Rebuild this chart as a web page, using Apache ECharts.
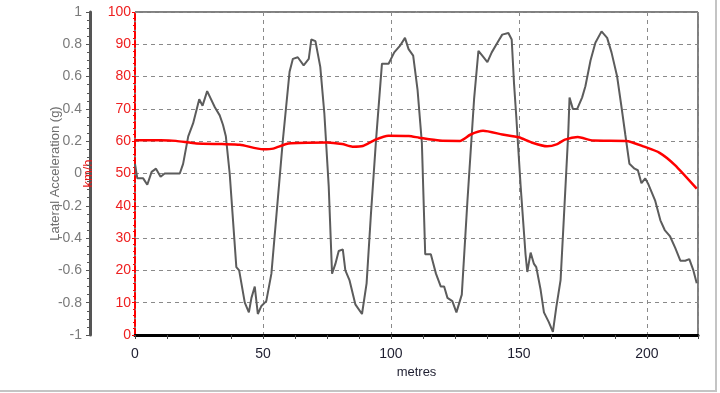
<!DOCTYPE html>
<html>
<head>
<meta charset="utf-8">
<script src="https://cdn.jsdelivr.net/npm/echarts@6/dist/echarts.min.js"></script>
<style>
    html, body { margin: 0; padding: 0; background: #fff; }
    #wrap { position: relative; width: 720px; height: 393px; overflow: hidden; }
    #frame { position: absolute; left: -3px; top: -3px; width: 720px; height: 395px;
        box-sizing: border-box; border: 2px solid #c4c4c4; }
    #chart { position: absolute; left: 0; top: 0; width: 720px; height: 393px; }
</style>
</head>
<body>
<div id="wrap">
    <div id="frame"></div>
    <div id="chart"></div>
</div>
<script>
    // lateral acceleration (g) against distance (m)
    var latMetres = [0, 0.9, 3.2, 4.8, 6.5, 8.2, 10, 11.6, 17.5, 18.8, 20.8, 22.7, 25.1, 26.4, 28.2, 31.2,
        33.1, 34.4, 35.5, 37, 39.6, 40.7, 42.9, 44.5, 45.5, 46.8, 48, 49.4, 51.3, 53.3, 55.2, 57.8,
        60.4, 61.7, 63.6, 65.9, 67.9, 68.9, 70.5, 72.4, 74, 75.7, 77, 78.3, 79.6, 81.2, 82.2, 83.8,
        86.1, 88.7, 90.5, 92.2, 94.2, 96.5, 99.1, 101.3, 103.5, 105.5, 106.9, 108.7, 110.4, 112.1,
        113.4, 115.6, 117.6, 119.5, 120.8, 122.1, 124, 125.6, 127.7, 129.9, 132.5, 134.2, 135.7,
        137.7, 139.4, 141.6, 143.5, 145.9, 147.2, 148.1, 149, 150.7, 152.6, 153.3, 154.6, 155.9,
        156.8, 158.5, 159.8, 161.7, 163.3, 164.6, 166.3, 167.6, 169.3, 169.8, 171.1, 172.8, 174.7,
        176, 178, 179.9, 182.3, 184.5, 186.2, 188.4, 190.3, 191.6, 193.2, 195.2, 196.5, 197.9,
        199.4, 200.7, 203.3, 205.3, 207, 209.1, 211.1, 213.1, 215, 216.6, 218.2, 219.5];
    var latG = [0.06, -0.03, -0.03, -0.07, 0.01, 0.03, -0.02, 0.00, 0.00, 0.06, 0.23, 0.31, 0.46, 0.42, 0.51, 0.41,
        0.36, 0.30, 0.23, 0.00, -0.58, -0.60, -0.80, -0.86, -0.77, -0.70, -0.87, -0.82, -0.79, -0.62, -0.27, 0.21,
        0.63, 0.71, 0.72, 0.67, 0.71, 0.83, 0.82, 0.66, 0.37, -0.08, -0.62, -0.56, -0.48, -0.47, -0.60, -0.66,
        -0.81, -0.87, -0.68, -0.25, 0.21, 0.68, 0.68, 0.75, 0.79, 0.84, 0.77, 0.73, 0.52, 0.19,
        -0.50, -0.50, -0.62, -0.70, -0.70, -0.77, -0.79, -0.86, -0.75, -0.17, 0.46, 0.76, 0.73,
        0.69, 0.75, 0.81, 0.86, 0.87, 0.83, 0.56, 0.35, -0.08, -0.50, -0.61, -0.49, -0.56,
        -0.58, -0.72, -0.86, -0.92, -0.98, -0.83, -0.66, -0.27, 0.25, 0.47, 0.40, 0.40, 0.47,
        0.54, 0.70, 0.81, 0.88, 0.84, 0.75, 0.60, 0.39, 0.24, 0.06, 0.03, 0.02, -0.06,
        -0.03, -0.07, -0.17, -0.29, -0.35, -0.39, -0.46, -0.54, -0.54, -0.53, -0.60, -0.68];

    // speed (km/h) against distance (m)
    var speedMetres = [0, 10, 16, 24, 34, 41, 50, 54, 60, 75, 81, 85, 89, 94, 99, 107, 111, 119, 127, 131,
        136, 143.5, 150, 155, 161, 165, 168, 173, 179, 192, 199, 205, 211, 219.5];
    var speedKmh = [60.3, 60.3, 60.1, 59.3, 59.1, 58.9, 57.5, 57.7, 59.3, 59.6, 59.1, 58.3, 58.5, 60.5, 61.7, 61.6,
        61.1, 60.2, 60.1, 62, 63.2, 62.1, 61.2, 59.6, 58.4, 59.1, 60.5, 61.3, 60.2, 60.1, 58.3, 56.4, 52.6, 45.3];

    var gTickLabels = ['-1', '-0.8', '-0.6', '-0.4', '-0.2', '0', '0.2', '0.4', '0.6', '0.8', '1'];

    function zip(xs, ys) {
        return xs.map(function (x, i) { return [x, ys[i]]; });
    }

    var FONT = '"Liberation Sans", Arial, sans-serif';
    var dashed = { color: '#8a8a8a', type: [4, 4], width: 1 };

    var chart = echarts.init(document.getElementById('chart'));
    chart.setOption({
        animation: false,
        grid: {
            left: 135, right: 22, top: 12, bottom: 58,
            show: true, borderColor: '#000', borderWidth: 1
        },
        xAxis: {
            type: 'value', min: 0, max: 220, interval: 50,
            name: 'metres', nameLocation: 'middle', nameGap: 31, nameMoveOverlap: false,
            nameTextStyle: { color: '#1e1e30', fontSize: 13, fontFamily: FONT },
            axisLine: { onZero: false, lineStyle: { color: '#000', width: 3 } },
            axisTick: { show: true, length: 4, lineStyle: { color: '#444' } },
            minorTick: { show: true, splitNumber: 4, length: 4, lineStyle: { color: '#444' } },
            axisLabel: {
                color: '#1e1e30', fontSize: 14, fontFamily: FONT, margin: 12,
                showMaxLabel: false
            },
            splitLine: { show: true, lineStyle: dashed }
        },
        yAxis: [{
            type: 'value', min: -1, max: 1, interval: 0.2, position: 'left', offset: 45,
            name: 'Lateral Acceleration (g)', nameLocation: 'middle', nameGap: 28, nameMoveOverlap: false,
            nameTextStyle: { color: '#6e6e6e', fontSize: 13, fontFamily: FONT },
            axisLine: { show: true, onZero: false, lineStyle: { color: '#555', width: 3 } },
            axisTick: { show: true, length: 4, lineStyle: { color: '#555' } },
            minorTick: { show: true, splitNumber: 4, length: 3, lineStyle: { color: '#555' } },
            axisLabel: {
                color: '#7a7a7a', fontSize: 14, fontFamily: FONT, margin: 8,
                formatter: function (v) {
                    return gTickLabels[Math.round((v + 1) * 5)];
                }
            },
            splitLine: { show: false }
        }, {
            type: 'value', min: 0, max: 100, interval: 10, position: 'left', offset: 0,
            name: 'km/h', nameLocation: 'middle', nameGap: 40, nameMoveOverlap: false,
            nameTextStyle: { color: '#e81818', fontSize: 13, fontFamily: FONT },
            axisLine: { show: true, onZero: false, lineStyle: { color: '#ff0000', width: 2, type: [6, 3] } },
            axisTick: { show: true, length: 3, lineStyle: { color: '#ff0000' } },
            minorTick: { show: true, splitNumber: 5, length: 2, lineStyle: { color: '#ff0000' } },
            axisLabel: { color: '#ee2020', fontSize: 14, fontFamily: FONT, margin: 4 },
            splitLine: { show: true, lineStyle: dashed }
        }],
        series: [{
            name: 'Lateral Acceleration',
            type: 'line',
            yAxisIndex: 0,
            data: zip(latMetres, latG),
            showSymbol: false,
            lineStyle: { color: '#5c5c5c', width: 2 },
            z: 3
        }, {
            name: 'Speed',
            type: 'line',
            yAxisIndex: 1,
            data: zip(speedMetres, speedKmh),
            showSymbol: false,
            smooth: 0.2,
            lineStyle: { color: '#ff0000', width: 2.5 },
            z: 4
        }]
    });
</script>
</body>
</html>
